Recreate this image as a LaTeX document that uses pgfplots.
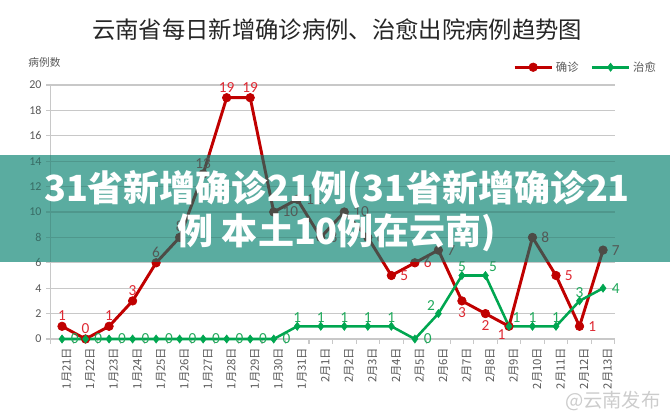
\documentclass[border=0pt]{standalone}
\usepackage{fontspec}
\setmainfont{Carlito}
\newfontfamily\cjk{Noto Sans CJK SC}
\usepackage{pgfplots}
\pgfplotsset{compat=1.18}
\usepackage{pgfplotstable}
\definecolor{redline}{RGB}{192,0,0}
\definecolor{redtext}{RGB}{222,40,50}
\definecolor{greenline}{RGB}{0,166,80}
\definecolor{greentext}{RGB}{30,168,90}
\definecolor{gridc}{RGB}{200,200,200}
\definecolor{tickc}{RGB}{89,89,89}
\definecolor{banner}{RGB}{90,172,160}

\pgfplotstableread{
x y
0 1
1 0
2 1
3 3
4 6
5 8
6 13
7 19
8 19
9 10
10 11
11 8
12 10
13 8
14 5
15 6
16 7
17 3
18 2
19 1
20 8
21 5
22 1
23 7
}\confirmed

\pgfplotstableread{
x y
0 0
1 0
2 0
3 0
4 0
5 0
6 0
7 0
8 0
9 0
10 1
11 1
12 1
13 1
14 1
15 0
16 2
17 5
18 5
19 1
20 1
21 1
22 3
23 4
}\cured

\pgfplotsset{
  redlab/.style={forget plot, draw=none, mark=none, nodes near coords, point meta=explicit symbolic,
    every node near coord/.append style={anchor=#1, font=\fontsize{11.5}{13}\selectfont, text=redtext, inner sep=2.5pt}},
  greenlab/.style={forget plot, draw=none, mark=none, nodes near coords, point meta=explicit symbolic,
    every node near coord/.append style={anchor=#1, font=\fontsize{11.5}{13}\selectfont, text=greentext, inner sep=2.5pt}},
}

\begin{document}
\begin{tikzpicture}
\useasboundingbox (0,0) rectangle (502.5pt,313.5pt);
% dummy (harmless) blend-mode fill first
\fill[white, blend mode=multiply] (0,0) rectangle (0.5pt,0.5pt);
\begin{axis}[
  at={(37.7pt,59.25pt)}, anchor=south west,
  scale only axis, width=423.4pt, height=190.5pt,
  xmin=-0.5, xmax=23.5, ymin=0, ymax=20,
  clip=false,
  axis x line*=bottom, axis y line*=left,
  axis line style={draw=gridc, line width=0.8pt, -},
  ymajorgrids, grid style={draw=gridc, line width=0.8pt},
  ytick={0,2,...,20},
  xtick={0,...,23},
  minor xtick={-0.5,0.5,...,23.5},
  major x tick style={draw=none},
  minor x tick style={draw=gridc, line width=0.8pt},
  major y tick style={draw=gridc, line width=0.8pt},
  tick align=outside,
  major tick length=3pt, minor tick length=3.5pt,
  xticklabels={1月21日,1月22日,1月23日,1月24日,1月25日,1月26日,1月27日,1月28日,1月29日,1月30日,1月31日,2月1日,2月2日,2月3日,2月4日,2月5日,2月6日,2月7日,2月8日,2月9日,2月10日,2月11日,2月12日,2月13日},
  xticklabel style={font=\cjk\fontsize{8.5}{9}\selectfont, text=tickc, rotate=90, anchor=east, yshift=-3.5pt},
  yticklabel style={font=\fontsize{9}{10}\selectfont, text=tickc},
  /pgf/number format/assume math mode=true,
  legend style={draw=none, fill=none, font=\cjk\fontsize{8.5}{10}\selectfont, text=tickc,
    legend columns=2, at={(axis description cs:1.085,1.025)}, anchor=south east,
    /tikz/every even column/.append style={column sep=7pt}},
  legend image code/.code={\draw[mark repeat=2,mark phase=2,#1] plot coordinates {(0pt,0pt)(14pt,0pt)(28pt,0pt)};},
]
\addplot[redline, line width=2.2pt, mark=*, mark size=3.2pt, mark options={fill=redline, draw=redline, line width=0.5pt}]
  table[x=x, y=y] {\confirmed};
\addlegendentry{确诊}
\addplot[greenline, line width=1.9pt, mark=diamond*, mark size=3pt, mark options={fill=greenline, draw=greenline, line width=0.5pt}]
  table[x=x, y=y] {\cured};
\addlegendentry{治愈}
% data labels, confirmed
\addplot[redlab=south, every node near coord/.append style={yshift=1.5pt}] coordinates {(0,1)[1] (1,0)[0] (2,1)[1] (3,3)[3] (4,6)[6] (5,8)[8] (6,13)[13] (7,19)[19] (8,19)[19]};
\addplot[redlab=west, every node near coord/.append style={xshift=4pt}] coordinates {(9,10)[10] (10,11)[11] (11,8)[8] (12,10)[10] (13,8)[8] (14,5)[5] (15,6)[6] (16,7)[7] (20,8)[8] (21,5)[5] (22,1)[1] (23,7)[7]};
\addplot[redlab=north, every node near coord/.append style={yshift=-2.5pt}] coordinates {(17,3)[3] (18,2)[2]};
\addplot[redlab=north east] coordinates {(19,1)[1]};
% data labels, cured
\addplot[greenlab=west, every node near coord/.append style={xshift=4pt}] coordinates {(0,0)[0] (1,0)[0] (2,0)[0] (3,0)[0] (4,0)[0] (5,0)[0] (6,0)[0] (7,0)[0] (8,0)[0] (9,0)[0] (15,0)[0] (23,4)[4]};
\addplot[greenlab=south] coordinates {(10,1)[1] (11,1)[1] (12,1)[1] (13,1)[1] (14,1)[1] (17,5)[5] (20,1)[1] (21,1)[1] (22,3)[3]};
\addplot[greenlab=south east] coordinates {(16,2)[2]};
\addplot[greenlab=south west] coordinates {(18,5)[5] (19,1)[1]};
\node[anchor=west, font=\cjk\fontsize{8}{9}\selectfont, text=tickc] at (axis description cs:-0.047,1.09) {病例数};
\end{axis}
% title
\node[font=\cjk\fontsize{17.5}{20}\selectfont, text=black!85] at (252.75pt,291pt) {云南省每日新增确诊病例、治愈出院病例趋势图};
% overlay banner
\fill[white, opacity=0.44] (0,117pt) rectangle (502.5pt,197.25pt);
\fill[banner, blend mode=multiply] (0,117pt) rectangle (502.5pt,197.25pt);
\node[font=\cjk\bfseries\fontsize{27}{32.25}\selectfont, text=white, align=center] at (252.75pt,155pt) {31省新增确诊21例(31省新增确诊21\\例 本土10例在云南)};
% watermark
\node[font=\cjk\fontsize{14.5}{16}\selectfont, text=black!20, anchor=east] at (499pt,13pt) {@云南发布};
\end{tikzpicture}
\end{document}
